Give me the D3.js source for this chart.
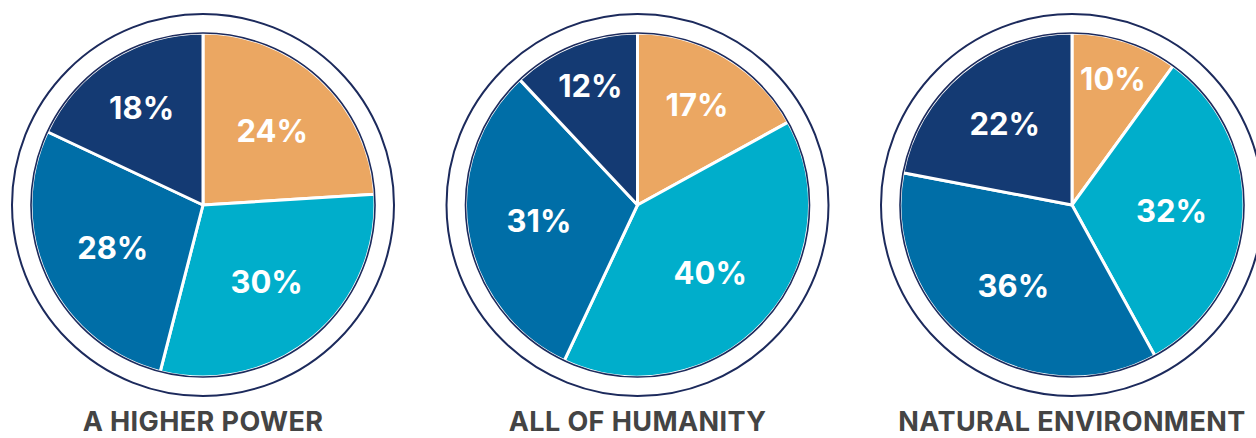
<!DOCTYPE html>
<html>
<head>
<meta charset="utf-8">
<script src="https://cdn.jsdelivr.net/npm/d3@7"></script>
<style>
  html, body { margin: 0; padding: 0; background: #ffffff; }
  svg { display: block; }
</style>
</head>
<body>
<svg id="chart" width="1256" height="438"></svg>
<script>
// ---- data ----
const titles = ["A HIGHER POWER", "ALL OF HUMANITY", "NATURAL ENVIRONMENT"];
const segments = ["orange", "cyan", "mid", "navy"];
const higherPower = [24, 30, 28, 18];
const allHumanity = [17, 40, 31, 12];
const naturalEnv  = [10, 32, 36, 22];
const seriesList = [higherPower, allHumanity, naturalEnv];

// ---- style ----
const W = 1256, H = 438;
const R = 172, ringR = 191;
const colors = d3.scaleOrdinal().domain(segments)
  .range(["#EBA762", "#00AECB", "#006EA7", "#143A73"]);
const edge = "#1c2a5c";

const svg = d3.select("#chart");
const xPos = d3.scalePoint().domain(titles).range([203, 1072]);
const cy = 205;

const pie = d3.pie().sort(null).value(d => d.v).startAngle(0).endAngle(2 * Math.PI);
const arc = d3.arc().innerRadius(0).outerRadius(R);

titles.forEach((t, i) => {
  const vals = seriesList[i];
  const data = vals.map((v, j) => ({ key: segments[j], v }));
  const g = svg.append("g").attr("transform", `translate(${xPos(t)},${cy})`);

  // outer ring
  g.append("circle").attr("r", ringR)
    .attr("fill", "none").attr("stroke", edge).attr("stroke-width", 2);

  const arcs = pie(data);
  g.selectAll("path.slice").data(arcs).enter().append("path")
    .attr("class", "slice")
    .attr("d", arc)
    .attr("fill", d => colors(d.data.key))
    .attr("stroke", "#ffffff")
    .attr("stroke-width", 3)
    .attr("stroke-linejoin", "round");

  // dark pie edge
  g.append("circle").attr("r", R)
    .attr("fill", "none").attr("stroke", edge).attr("stroke-width", 1.6);

  // labels: small slices pushed outward
  g.selectAll("text.pct").data(arcs).enter().append("text")
    .attr("class", "pct")
    .attr("transform", d => {
      const frac = d.data.v / 100;
      const k = Math.max(0.58, 0.9 - 1.3 * frac);
      const a = (d.startAngle + d.endAngle) / 2;
      return `translate(${Math.sin(a) * R * k},${-Math.cos(a) * R * k})`;
    })
    .attr("text-anchor", "middle")
    .attr("dy", "0.36em")
    .attr("fill", "#ffffff")
    .style("font-family", "Inter, 'Open Sans', sans-serif")
    .style("font-weight", 700)
    .style("font-size", "31px")
    .text(d => d.data.v + "%");

  svg.append("text")
    .attr("x", xPos(t))
    .attr("y", 431)
    .attr("text-anchor", "middle")
    .attr("fill", "#444444")
    .style("font-family", "Inter, 'Open Sans', sans-serif")
    .style("font-weight", 700)
    .style("font-size", "27px")
    .style("letter-spacing", "0.4px")
    .text(t);
});
</script>
</body>
</html>
